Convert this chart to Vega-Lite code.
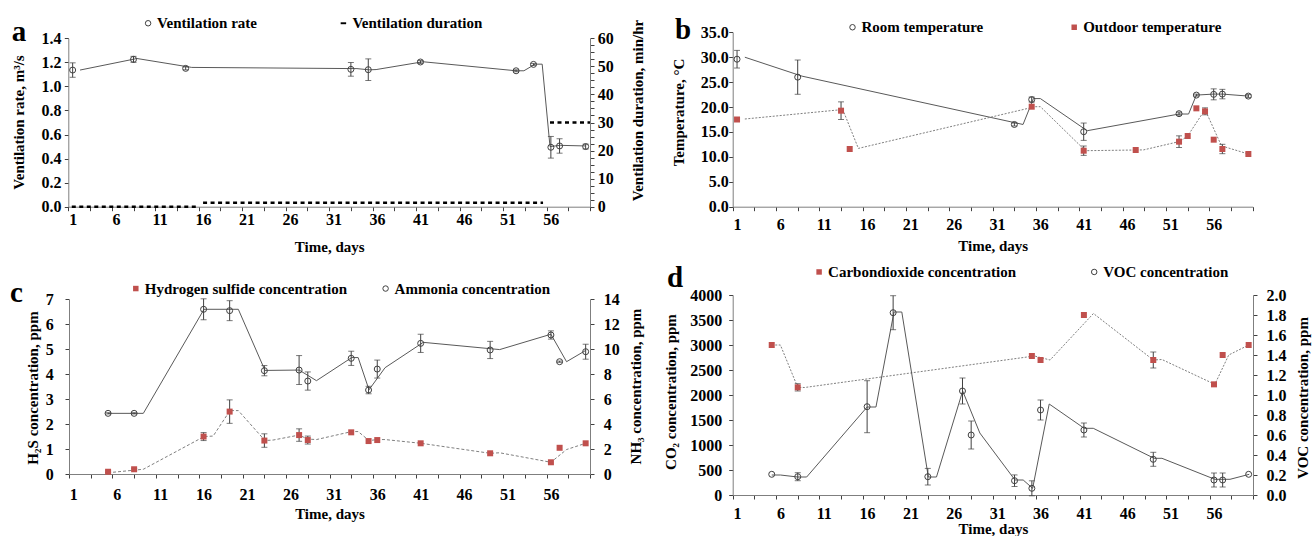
{
"$schema":"https://vega.github.io/schema/vega-lite/v6.json",
"width":1314,"height":536,"autosize":{"type":"none"},"padding":0,"background":"white",
"config":{
 "view":{"stroke":null},
 "axis":{"labelFont":"Liberation Serif","labelFontWeight":"bold","labelFontSize":16,"labelColor":"black","titleFont":"Liberation Serif","titleFontWeight":"bold","titleFontSize":15,"titleColor":"black","domainColor":"#7f7f7f","tickColor":"#404040","tickSize":4,"grid":false,"labelOverlap":false,"labelFlush":false,"labelBound":false,"titleBaseline":"middle","titleAlign":"center"},
 "legend":{"labelFont":"Liberation Serif","labelFontWeight":"bold","labelFontSize":15,"labelColor":"black","labelLimit":400,"symbolSize":30,"symbolStrokeWidth":1,"labelOffset":1.5,"padding":0}
},
"datasets":{
 "rate":[{"d":1,"v":1.136,"e":0.06,"s":"Ventilation rate"},{"d":8,"v":1.225,"e":0.025,"s":"Ventilation rate"},{"d":14,"v":1.15,"e":0.012,"s":"Ventilation rate"},{"d":33,"v":1.142,"e":0.057,"s":"Ventilation rate"},{"d":35,"v":1.139,"e":0.09,"s":"Ventilation rate"},{"d":41,"v":1.203,"e":0.012,"s":"Ventilation rate"},{"d":52,"v":1.13,"e":0.008,"s":"Ventilation rate"},{"d":54,"v":1.183,"e":0.008,"s":"Ventilation rate"},{"d":56,"v":0.494,"e":0.09,"s":"Ventilation rate"},{"d":57,"v":0.505,"e":0.06,"s":"Ventilation rate"},{"d":60,"v":0.5,"e":0.02,"s":"Ventilation rate"}],
 "rateLine":[{"d":1.85,"v":1.136},{"d":8.4,"v":1.232},{"d":14.7,"v":1.158},{"d":33.7,"v":1.148},{"d":35.1,"v":1.138},{"d":35.9,"v":1.14},{"d":41.3,"v":1.205},{"d":52,"v":1.13},{"d":52.9,"v":1.13},{"d":54.2,"v":1.185},{"d":55,"v":1.185},{"d":55.9,"v":0.5},{"d":57.1,"v":0.51},{"d":60,"v":0.505}],
 "dur":[{"d":0.9,"d2":15.4,"v":0},{"d":16,"d2":55.1,"v":1.4},{"d":55.9,"d2":60.5,"v":30}],
 "room":[{"d":1,"v":29.6,"e":1.77,"s":"Room temperature"},{"d":8,"v":26.0,"e":3.44,"s":"Room temperature"},{"d":33,"v":16.5,"e":0.3,"s":"Room temperature"},{"d":35,"v":21.5,"e":0.5,"s":"Room temperature"},{"d":41,"v":15.05,"e":1.74,"s":"Room temperature"},{"d":52,"v":18.67,"e":0.3,"s":"Room temperature"},{"d":54,"v":22.4,"e":0.2,"s":"Room temperature"},{"d":56,"v":22.55,"e":1.1,"s":"Room temperature"},{"d":57,"v":22.6,"e":0.95,"s":"Room temperature"},{"d":60,"v":22.2,"e":0.3,"s":"Room temperature"}],
 "outdoor":[{"d":1,"v":17.5,"e":0,"s":"Outdoor temperature"},{"d":13,"v":19.27,"e":1.77,"s":"Outdoor temperature"},{"d":14,"v":11.58,"e":0,"s":"Outdoor temperature"},{"d":35,"v":20.07,"e":0,"s":"Outdoor temperature"},{"d":41,"v":11.24,"e":0.94,"s":"Outdoor temperature"},{"d":47,"v":11.38,"e":0,"s":"Outdoor temperature"},{"d":52,"v":13.05,"e":1.17,"s":"Outdoor temperature"},{"d":53,"v":14.19,"e":0,"s":"Outdoor temperature"},{"d":54,"v":19.74,"e":0,"s":"Outdoor temperature"},{"d":55,"v":19.14,"e":0.7,"s":"Outdoor temperature"},{"d":56,"v":13.45,"e":0,"s":"Outdoor temperature"},{"d":57,"v":11.58,"e":0.94,"s":"Outdoor temperature"},{"d":60,"v":10.58,"e":0,"s":"Outdoor temperature"}],
 "roomLine":[{"d":1.9,"v":30.0},{"d":8.5,"v":26.2},{"d":34.0,"v":16.5},{"d":35.2,"v":21.7},{"d":36.0,"v":21.7},{"d":41.4,"v":15.25},{"d":52.0,"v":18.6},{"d":53.1,"v":18.6},{"d":54.0,"v":22.4},{"d":56,"v":22.6},{"d":57,"v":22.6},{"d":60,"v":22.2}],
 "outLine":[{"d":1.9,"v":17.6},{"d":13.2,"v":19.5},{"d":15.0,"v":11.7},{"d":35.4,"v":20.07},{"d":36.0,"v":20.07},{"d":41.2,"v":11.24},{"d":47.9,"v":11.4},{"d":52.1,"v":13.1},{"d":53.0,"v":14.2},{"d":55.0,"v":19.5},{"d":56.9,"v":12.2},{"d":60,"v":10.58}],
 "h2s":[{"d":5,"v":0.09,"e":0.03,"s":"Hydrogen sulfide concentration"},{"d":8,"v":0.19,"e":0.04,"s":"Hydrogen sulfide concentration"},{"d":16,"v":1.5,"e":0.16,"s":"Hydrogen sulfide concentration"},{"d":19,"v":2.5,"e":0.47,"s":"Hydrogen sulfide concentration"},{"d":23,"v":1.34,"e":0.27,"s":"Hydrogen sulfide concentration"},{"d":27,"v":1.56,"e":0.25,"s":"Hydrogen sulfide concentration"},{"d":28,"v":1.36,"e":0.16,"s":"Hydrogen sulfide concentration"},{"d":33,"v":1.67,"e":0,"s":"Hydrogen sulfide concentration"},{"d":35,"v":1.32,"e":0,"s":"Hydrogen sulfide concentration"},{"d":36,"v":1.36,"e":0,"s":"Hydrogen sulfide concentration"},{"d":41,"v":1.23,"e":0,"s":"Hydrogen sulfide concentration"},{"d":49,"v":0.83,"e":0,"s":"Hydrogen sulfide concentration"},{"d":56,"v":0.47,"e":0,"s":"Hydrogen sulfide concentration"},{"d":57,"v":1.05,"e":0,"s":"Hydrogen sulfide concentration"},{"d":60,"v":1.23,"e":0,"s":"Hydrogen sulfide concentration"}],
 "h2sLine":[{"d":5,"v":0.05},{"d":9.06,"v":0.19},{"d":16.05,"v":1.5},{"d":17.1,"v":1.52},{"d":19.04,"v":2.54},{"d":20,"v":2.54},{"d":23.07,"v":1.34},{"d":24,"v":1.36},{"d":27,"v":1.56},{"d":28,"v":1.4},{"d":29,"v":1.38},{"d":33.06,"v":1.7},{"d":33.8,"v":1.7},{"d":35.05,"v":1.34},{"d":36.05,"v":1.38},{"d":36.9,"v":1.38},{"d":41.04,"v":1.23},{"d":49,"v":0.83},{"d":50.1,"v":0.85},{"d":56,"v":0.47},{"d":57.8,"v":0.98},{"d":60,"v":1.23}],
 "nh3":[{"d":5,"v":4.86,"e":0.05,"s":"Ammonia concentration"},{"d":8,"v":4.86,"e":0.05,"s":"Ammonia concentration"},{"d":16,"v":13.2,"e":0.84,"s":"Ammonia concentration"},{"d":19,"v":13.09,"e":0.8,"s":"Ammonia concentration"},{"d":23,"v":8.28,"e":0.41,"s":"Ammonia concentration"},{"d":27,"v":8.33,"e":1.16,"s":"Ammonia concentration"},{"d":28,"v":7.45,"e":0.73,"s":"Ammonia concentration"},{"d":33,"v":9.27,"e":0.57,"s":"Ammonia concentration"},{"d":35,"v":6.73,"e":0.3,"s":"Ammonia concentration"},{"d":36,"v":8.41,"e":0.72,"s":"Ammonia concentration"},{"d":41,"v":10.47,"e":0.73,"s":"Ammonia concentration"},{"d":49,"v":9.94,"e":0.69,"s":"Ammonia concentration"},{"d":56,"v":11.14,"e":0.33,"s":"Ammonia concentration"},{"d":57,"v":9.0,"e":0.05,"s":"Ammonia concentration"},{"d":60,"v":9.8,"e":0.6,"s":"Ammonia concentration"}],
 "nh3Line":[{"d":5,"v":4.86},{"d":9.06,"v":4.86},{"d":16.05,"v":13.2},{"d":20,"v":13.2},{"d":23.07,"v":8.3},{"d":27,"v":8.33},{"d":29,"v":7.48},{"d":33.06,"v":9.33},{"d":33.8,"v":9.33},{"d":35.05,"v":6.75},{"d":36.9,"v":8.52},{"d":41.3,"v":10.55},{"d":50.1,"v":9.97},{"d":56,"v":11.2},{"d":57.8,"v":9.0},{"d":60,"v":9.9}],
 "co2":[{"d":5,"v":3000,"e":0,"s":"Carbondioxide concentration"},{"d":8,"v":2153,"e":73,"s":"Carbondioxide concentration"},{"d":35,"v":2780,"e":0,"s":"Carbondioxide concentration"},{"d":36,"v":2700,"e":0,"s":"Carbondioxide concentration"},{"d":41,"v":3600,"e":0,"s":"Carbondioxide concentration"},{"d":49,"v":2700,"e":160,"s":"Carbondioxide concentration"},{"d":56,"v":2213,"e":0,"s":"Carbondioxide concentration"},{"d":57,"v":2800,"e":0,"s":"Carbondioxide concentration"},{"d":60,"v":3000,"e":0,"s":"Carbondioxide concentration"}],
 "co2Line":[{"d":5,"v":3000},{"d":6,"v":3000},{"d":8,"v":2153},{"d":8.8,"v":2150},{"d":35.3,"v":2780},{"d":37.1,"v":2700},{"d":42.1,"v":3630},{"d":49,"v":2700},{"d":50,"v":2710},{"d":56.1,"v":2213},{"d":57.7,"v":2800},{"d":60,"v":3000}],
 "voc":[{"d":5,"v":0.207,"e":0,"s":"VOC concentration"},{"d":8,"v":0.183,"e":0.04,"s":"VOC concentration"},{"d":16,"v":0.883,"e":0.26,"s":"VOC concentration"},{"d":19,"v":1.823,"e":0.17,"s":"VOC concentration"},{"d":23,"v":0.183,"e":0.083,"s":"VOC concentration"},{"d":27,"v":1.04,"e":0.13,"s":"VOC concentration"},{"d":28,"v":0.6,"e":0.14,"s":"VOC concentration"},{"d":33,"v":0.143,"e":0.058,"s":"VOC concentration"},{"d":35,"v":0.067,"e":0.075,"s":"VOC concentration"},{"d":36,"v":0.85,"e":0.1,"s":"VOC concentration"},{"d":41,"v":0.65,"e":0.07,"s":"VOC concentration"},{"d":49,"v":0.357,"e":0.07,"s":"VOC concentration"},{"d":56,"v":0.15,"e":0.07,"s":"VOC concentration"},{"d":57,"v":0.15,"e":0.07,"s":"VOC concentration"},{"d":60,"v":0.207,"e":0,"s":"VOC concentration"}],
 "vocLine":[{"d":5,"v":0.2},{"d":6,"v":0.2},{"d":8,"v":0.18},{"d":9.03,"v":0.18},{"d":16,"v":0.88},{"d":17.02,"v":0.88},{"d":19.1,"v":1.83},{"d":20,"v":1.83},{"d":23.06,"v":0.18},{"d":24,"v":0.18},{"d":27.02,"v":1.04},{"d":29,"v":0.62},{"d":33.05,"v":0.15},{"d":34,"v":0.15},{"d":35.09,"v":0.067},{"d":37,"v":0.91},{"d":41.04,"v":0.667},{"d":42.08,"v":0.667},{"d":49.1,"v":0.367},{"d":50,"v":0.367},{"d":56.1,"v":0.157},{"d":57.85,"v":0.157},{"d":60.07,"v":0.207}]
},
"layer":[
 {
  "layer":[
   {"layer":[
    {"data":{"name":"rateLine"},"mark":{"type":"line","color":"#595959","strokeWidth":1},
     "encoding":{"x":{"field":"d","type":"quantitative","scale":{"domain":[0.5,60.5],"range":[68.3,590],"nice":false,"zero":false},
                      "axis":{"orient":"bottom","offset":-329.3,"values":[0.5,3,5.5,8,10.5,13,15.5,18,20.5,23,25.5,28,30.5,33,35.5,38,40.5,43,45.5,48,50.5,53,55.5,58,60.5],"labels":false,"title":null}},
                 "y":{"field":"v","type":"quantitative","scale":{"domain":[0,1.4],"range":[206.7,38.3],"nice":false,"zero":false}}}},
    {"data":{"name":"rate"},"transform":[{"filter":"datum.e > 0"}],"mark":{"type":"errorbar","ticks":{"size":6},"color":"#404040","thickness":1},
     "encoding":{"x":{"field":"d","type":"quantitative","scale":{"domain":[0.5,60.5],"range":[68.3,590],"nice":false,"zero":false},"axis":null},
                 "y":{"field":"v","type":"quantitative","title":"Ventilation rate, m³/s","scale":{"domain":[0,1.4],"range":[206.7,38.3],"nice":false,"zero":false}},
                 "yError":{"field":"e"}}},
    {"data":{"values":[{}]},"mark":{"type":"text","text":"a","font":"Liberation Serif","fontSize":29,"fontWeight":"bold","align":"left","baseline":"alphabetic","color":"black"},
     "encoding":{"x":{"datum":-6,"type":"quantitative","scale":{"domain":[0.5,60.5],"range":[68.3,590],"nice":false,"zero":false},"axis":null},
                 "y":{"datum":1.3816,"type":"quantitative","scale":{"domain":[0,1.4],"range":[206.7,38.3],"nice":false,"zero":false}}}},
    {"data":{"name":"rate"},"mark":{"type":"point","size":36,"strokeWidth":1,"opacity":1},
     "encoding":{
      "x":{"field":"d","type":"quantitative","scale":{"domain":[0.5,60.5],"range":[68.3,590],"nice":false,"zero":false},
           "axis":{"orient":"bottom","offset":-329.3,"values":[1,6,11,16,21,26,31,36,41,46,51,56],"format":"d","tickOpacity":0,"domain":false,
                   "labelOverlap":false,"labelFlush":false,"labelBound":false,
                   "labelPadding":0.5,"title":"Time, days","titleX":329.2,"titleY":40}},
      "y":{"field":"v","type":"quantitative","scale":{"domain":[0,1.4],"range":[206.7,38.3],"nice":false,"zero":false},
           "axis":{"orient":"left","offset":-68.3,"values":[0,0.05,0.1,0.15,0.2,0.25,0.3,0.35,0.4,0.45,0.5,0.55,0.6,0.65,0.7,0.75,0.8,0.85,0.9,0.95,1,1.05,1.1,1.15,1.2,1.25,1.3,1.35,1.4],
                   "labelExpr":"round(datum.value * 100) % 20 === 0 ? format(datum.value, '.1f') : ''","labelPadding":3.3,"labelOverlap":false,"labelFlush":false,"labelBound":false,
                   "title":"Ventilation rate, m³/s","titleAngle":270,"titleX":-50,"titleY":122}},
      "shape":{"field":"s","type":"nominal","scale":{"domain":["Ventilation rate","Ventilation duration"],"range":["circle","M-1,-0.35L1,-0.35L1,0.35L-1,0.35Z"]},
               "legend":{"title":null,"orient":"none","legendX":140.6,"legendY":15.5,"direction":"horizontal","columnPadding":78.3}},
      "fill":{"field":"s","type":"nominal","scale":{"domain":["Ventilation rate","Ventilation duration"],"range":["transparent","black"]},
               "legend":{"title":null,"orient":"none","legendX":140.6,"legendY":15.5,"direction":"horizontal","columnPadding":78.3}},
      "stroke":{"field":"s","type":"nominal","scale":{"domain":["Ventilation rate","Ventilation duration"],"range":["#404040","transparent"]},
               "legend":{"title":null,"orient":"none","legendX":140.6,"legendY":15.5,"direction":"horizontal","columnPadding":78.3}}
     }}
   ],
   "resolve":{"axis":{"x":"independent"}}},
   {"layer":[
    {"data":{"name":"dur"},"mark":{"type":"rule","color":"black","strokeWidth":2.5,"strokeDash":[4,3.5]},
     "encoding":{"x":{"field":"d","type":"quantitative","scale":{"domain":[0.5,60.5],"range":[68.3,590],"nice":false,"zero":false},"axis":null},
                 "x2":{"field":"d2"},
                 "y":{"field":"v","type":"quantitative","scale":{"domain":[0,60],"range":[206.7,38.3],"nice":false,"zero":false},
                      "axis":{"orient":"right","offset":-724,"values":[0,2.5,5,7.5,10,12.5,15,17.5,20,22.5,25,27.5,30,32.5,35,37.5,40,42.5,45,47.5,50,52.5,55,57.5,60],
                              "labelExpr":"datum.value % 10 === 0 ? format(datum.value, 'd') : ''","labelPadding":3.3,"labelOverlap":false,"labelFlush":false,"labelBound":false,
                              "title":"Ventilation duration, min/hr","titleAngle":270,"titleX":47.3,"titleY":110}}}}
   ]}
  ],
  "resolve":{"scale":{"y":"independent"},"axis":{"y":"independent","x":"independent"}}
 },
 {
  "layer":[
   {"data":{"name":"roomLine"},"mark":{"type":"line","color":"#595959","strokeWidth":1},
    "encoding":{"x":{"field":"d","type":"quantitative","scale":{"domain":[0.5,60.5],"range":[732.7,1252.7],"nice":false,"zero":false},
                     "axis":{"orient":"bottom","offset":-329.3,"values":[0.5,3,5.5,8,10.5,13,15.5,18,20.5,23,25.5,28,30.5,33,35.5,38,40.5,43,45.5,48,50.5,53,55.5,58,60.5],"labels":false,"title":null}},
                "y":{"field":"v","type":"quantitative","scale":{"domain":[0,35],"range":[206.7,32.3],"nice":false,"zero":false}}}},
   {"data":{"name":"outLine"},"mark":{"type":"line","color":"#7f7f7f","strokeWidth":1,"strokeDash":[2,1.5]},
    "encoding":{"x":{"field":"d","type":"quantitative","scale":{"domain":[0.5,60.5],"range":[732.7,1252.7],"nice":false,"zero":false},"axis":null},
                "y":{"field":"v","type":"quantitative","scale":{"domain":[0,35],"range":[206.7,32.3],"nice":false,"zero":false}}}},
   {"data":{"name":"room"},"transform":[{"filter":"datum.e > 0"}],"mark":{"type":"errorbar","ticks":{"size":6},"color":"#404040","thickness":1},
    "encoding":{"x":{"field":"d","type":"quantitative","scale":{"domain":[0.5,60.5],"range":[732.7,1252.7],"nice":false,"zero":false},"axis":null},
                "y":{"field":"v","type":"quantitative","title":"Temperature, °C","scale":{"domain":[0,35],"range":[206.7,32.3],"nice":false,"zero":false}},
                "yError":{"field":"e"}}},
   {"data":{"name":"outdoor"},"transform":[{"filter":"datum.e > 0"}],"mark":{"type":"errorbar","ticks":{"size":6},"color":"#404040","thickness":1},
    "encoding":{"x":{"field":"d","type":"quantitative","scale":{"domain":[0.5,60.5],"range":[732.7,1252.7],"nice":false,"zero":false},"axis":null},
                "y":{"field":"v","type":"quantitative","title":"Temperature, °C","scale":{"domain":[0,35],"range":[206.7,32.3],"nice":false,"zero":false}},
                "yError":{"field":"e"}}},
   {"data":{"name":"outdoor"},"mark":{"type":"point","size":36,"strokeWidth":1,"opacity":1},
    "encoding":{
     "x":{"field":"d","type":"quantitative","scale":{"domain":[0.5,60.5],"range":[732.7,1252.7],"nice":false,"zero":false},"axis":null},
     "y":{"field":"v","type":"quantitative","scale":{"domain":[0,35],"range":[206.7,32.3],"nice":false,"zero":false}},
     "shape":{"field":"s","type":"nominal","scale":{"domain":["Room temperature","Outdoor temperature"],"range":["circle","square"]},
              "legend":{"title":null,"orient":"none","legendX":845,"legendY":19.5,"direction":"horizontal","columnPadding":82.7}},
     "fill":{"field":"s","type":"nominal","scale":{"domain":["Room temperature","Outdoor temperature"],"range":["transparent","#c0504d"]},
              "legend":{"title":null,"orient":"none","legendX":845,"legendY":19.5,"direction":"horizontal","columnPadding":82.7}},
     "stroke":{"field":"s","type":"nominal","scale":{"domain":["Room temperature","Outdoor temperature"],"range":["#404040","transparent"]},
              "legend":{"title":null,"orient":"none","legendX":845,"legendY":19.5,"direction":"horizontal","columnPadding":82.7}}
    }},
   {"data":{"values":[{}]},"mark":{"type":"text","text":"b","font":"Liberation Serif","fontSize":29,"fontWeight":"bold","align":"left","baseline":"alphabetic","color":"black"},
    "encoding":{"x":{"datum":-6.16,"type":"quantitative","scale":{"domain":[0.5,60.5],"range":[732.7,1252.7],"nice":false,"zero":false},"axis":null},
                "y":{"datum":33.65,"type":"quantitative","scale":{"domain":[0,35],"range":[206.7,32.3],"nice":false,"zero":false}}}},
   {"data":{"name":"room"},"mark":{"type":"point","size":36,"strokeWidth":1,"opacity":1},
    "encoding":{
     "x":{"field":"d","type":"quantitative","scale":{"domain":[0.5,60.5],"range":[732.7,1252.7],"nice":false,"zero":false},
          "axis":{"orient":"bottom","offset":-329.3,"values":[1,6,11,16,21,26,31,36,41,46,51,56],"format":"d","tickOpacity":0,"domain":false,
                  "labelOverlap":false,"labelFlush":false,"labelBound":false,
                  "labelPadding":6,"title":"Time, days","titleX":992.7,"titleY":38.3}},
     "y":{"field":"v","type":"quantitative","scale":{"domain":[0,35],"range":[206.7,32.3],"nice":false,"zero":false},
          "axis":{"orient":"left","offset":-732.7,"values":[0,2.5,5,7.5,10,12.5,15,17.5,20,22.5,25,27.5,30,32.5,35],
                  "labelExpr":"datum.value % 5 === 0 ? format(datum.value, '.1f') : ''","labelPadding":0.5,"labelOverlap":false,"labelFlush":false,"labelBound":false,
                  "title":"Temperature, °C","titleAngle":270,"titleX":-54.4,"titleY":112}},
     "shape":{"field":"s","type":"nominal","scale":{"domain":["Room temperature","Outdoor temperature"],"range":["circle","square"]},
              "legend":{"title":null,"orient":"none","legendX":845,"legendY":19.5,"direction":"horizontal","columnPadding":82.7}},
     "fill":{"field":"s","type":"nominal","scale":{"domain":["Room temperature","Outdoor temperature"],"range":["transparent","#c0504d"]},
              "legend":{"title":null,"orient":"none","legendX":845,"legendY":19.5,"direction":"horizontal","columnPadding":82.7}},
     "stroke":{"field":"s","type":"nominal","scale":{"domain":["Room temperature","Outdoor temperature"],"range":["#404040","transparent"]},
              "legend":{"title":null,"orient":"none","legendX":845,"legendY":19.5,"direction":"horizontal","columnPadding":82.7}}
    }}
  ],
  "resolve":{"axis":{"x":"independent"}}
 },
 {
  "layer":[
   {"layer":[
    {"data":{"name":"h2sLine"},"mark":{"type":"line","color":"#7f7f7f","strokeWidth":1,"strokeDash":[3,2]},
     "encoding":{"x":{"field":"d","type":"quantitative","scale":{"domain":[0.5,60.5],"range":[69,590],"nice":false,"zero":false},
                      "axis":{"orient":"bottom","offset":-62,"values":[0.5,3,5.5,8,10.5,13,15.5,18,20.5,23,25.5,28,30.5,33,35.5,38,40.5,43,45.5,48,50.5,53,55.5,58,60.5],"labels":false,"title":null}},
                 "y":{"field":"v","type":"quantitative","scale":{"domain":[0,7],"range":[474,299.3],"nice":false,"zero":false}}}},
    {"data":{"name":"h2s"},"transform":[{"filter":"datum.e > 0"}],"mark":{"type":"errorbar","ticks":{"size":6},"color":"#404040","thickness":1},
     "encoding":{"x":{"field":"d","type":"quantitative","scale":{"domain":[0.5,60.5],"range":[69,590],"nice":false,"zero":false},"axis":null},
                 "y":{"field":"v","type":"quantitative","title":"H₂S concentration, ppm","scale":{"domain":[0,7],"range":[474,299.3],"nice":false,"zero":false}},
                 "yError":{"field":"e"}}},
    {"data":{"values":[{}]},"mark":{"type":"text","text":"c","font":"Liberation Serif","fontSize":29,"fontWeight":"bold","align":"left","baseline":"alphabetic","color":"black"},
     "encoding":{"x":{"datum":-6.3,"type":"quantitative","scale":{"domain":[0.5,60.5],"range":[69,590],"nice":false,"zero":false},"axis":null},
                 "y":{"datum":6.9,"type":"quantitative","scale":{"domain":[0,7],"range":[474,299.3],"nice":false,"zero":false}}}},
    {"data":{"name":"h2s"},"mark":{"type":"point","size":36,"strokeWidth":1,"opacity":1},
     "encoding":{
      "x":{"field":"d","type":"quantitative","scale":{"domain":[0.5,60.5],"range":[69,590],"nice":false,"zero":false},
           "axis":{"orient":"bottom","offset":-62,"values":[1,6,11,16,21,26,31,36,41,46,51,56],"format":"d","tickOpacity":0,"domain":false,
                   "labelOverlap":false,"labelFlush":false,"labelBound":false,
                   "labelPadding":8,"title":"Time, days","titleX":329.5,"titleY":39.3}},
      "y":{"field":"v","type":"quantitative","scale":{"domain":[0,7],"range":[474,299.3],"nice":false,"zero":false},
           "axis":{"orient":"left","offset":-69,"values":[0,0.5,1,1.5,2,2.5,3,3.5,4,4.5,5,5.5,6,6.5,7],
                   "labelExpr":"datum.value % 1 === 0 ? format(datum.value, 'd') : ''","labelPadding":11.7,"labelOverlap":false,"labelFlush":false,"labelBound":false,
                   "title":"H₂S concentration, ppm","titleAngle":270,"titleX":-36.3,"titleY":387.5}},
      "shape":{"field":"s","type":"nominal","scale":{"domain":["Hydrogen sulfide concentration","Ammonia concentration"],"range":["square","circle"]},
               "legend":{"title":null,"orient":"none","legendX":128.3,"legendY":280.8,"direction":"horizontal","columnPadding":30.8}},
      "fill":{"field":"s","type":"nominal","scale":{"domain":["Hydrogen sulfide concentration","Ammonia concentration"],"range":["#c0504d","transparent"]},
               "legend":{"title":null,"orient":"none","legendX":128.3,"legendY":280.8,"direction":"horizontal","columnPadding":30.8}},
      "stroke":{"field":"s","type":"nominal","scale":{"domain":["Hydrogen sulfide concentration","Ammonia concentration"],"range":["transparent","#404040"]},
               "legend":{"title":null,"orient":"none","legendX":128.3,"legendY":280.8,"direction":"horizontal","columnPadding":30.8}}
     }}
   ],
   "resolve":{"axis":{"x":"independent"}}},
   {"layer":[
    {"data":{"name":"nh3Line"},"mark":{"type":"line","color":"#595959","strokeWidth":1},
     "encoding":{"x":{"field":"d","type":"quantitative","scale":{"domain":[0.5,60.5],"range":[69,590],"nice":false,"zero":false},"axis":null},
                 "y":{"field":"v","type":"quantitative","scale":{"domain":[0,14],"range":[474,299.3],"nice":false,"zero":false}}}},
    {"data":{"name":"nh3"},"transform":[{"filter":"datum.e > 0"}],"mark":{"type":"errorbar","ticks":{"size":6},"color":"#404040","thickness":1},
     "encoding":{"x":{"field":"d","type":"quantitative","scale":{"domain":[0.5,60.5],"range":[69,590],"nice":false,"zero":false},"axis":null},
                 "y":{"field":"v","type":"quantitative","title":"NH₃ concentration, ppm","scale":{"domain":[0,14],"range":[474,299.3],"nice":false,"zero":false}},
                 "yError":{"field":"e"}}},
    {"data":{"name":"nh3"},"mark":{"type":"point","size":36,"strokeWidth":1,"opacity":1},
     "encoding":{
      "x":{"field":"d","type":"quantitative","scale":{"domain":[0.5,60.5],"range":[69,590],"nice":false,"zero":false},"axis":null},
      "y":{"field":"v","type":"quantitative","scale":{"domain":[0,14],"range":[474,299.3],"nice":false,"zero":false},
           "axis":{"orient":"right","offset":-724,"values":[0,1,2,3,4,5,6,7,8,9,10,11,12,13,14],
                   "labelExpr":"datum.value % 2 === 0 ? format(datum.value, 'd') : ''","labelPadding":9.3,"labelOverlap":false,"labelFlush":false,"labelBound":false,
                   "title":"NH₃ concentration, ppm","titleAngle":270,"titleX":45,"titleY":386}},
      "shape":{"field":"s","type":"nominal","scale":{"domain":["Hydrogen sulfide concentration","Ammonia concentration"],"range":["square","circle"]},
               "legend":{"title":null,"orient":"none","legendX":128.3,"legendY":280.8,"direction":"horizontal","columnPadding":30.8}},
      "fill":{"field":"s","type":"nominal","scale":{"domain":["Hydrogen sulfide concentration","Ammonia concentration"],"range":["#c0504d","transparent"]},
               "legend":{"title":null,"orient":"none","legendX":128.3,"legendY":280.8,"direction":"horizontal","columnPadding":30.8}},
      "stroke":{"field":"s","type":"nominal","scale":{"domain":["Hydrogen sulfide concentration","Ammonia concentration"],"range":["transparent","#404040"]},
               "legend":{"title":null,"orient":"none","legendX":128.3,"legendY":280.8,"direction":"horizontal","columnPadding":30.8}}
     }}
   ]}
  ],
  "resolve":{"scale":{"y":"independent"},"axis":{"y":"independent","x":"independent"}}
 },
 {
  "layer":[
   {"layer":[
    {"data":{"name":"co2Line"},"mark":{"type":"line","color":"#7f7f7f","strokeWidth":1,"strokeDash":[2,1.5]},
     "encoding":{"x":{"field":"d","type":"quantitative","scale":{"domain":[0.5,60.5],"range":[732.7,1253],"nice":false,"zero":false},
                      "axis":{"orient":"bottom","offset":-41,"values":[0.5,3,5.5,8,10.5,13,15.5,18,20.5,23,25.5,28,30.5,33,35.5,38,40.5,43,45.5,48,50.5,53,55.5,58,60.5],"labels":false,"title":null}},
                 "y":{"field":"v","type":"quantitative","scale":{"domain":[0,4000],"range":[495,295],"nice":false,"zero":false}}}},
    {"data":{"name":"co2"},"transform":[{"filter":"datum.e > 0"}],"mark":{"type":"errorbar","ticks":{"size":6},"color":"#404040","thickness":1},
     "encoding":{"x":{"field":"d","type":"quantitative","scale":{"domain":[0.5,60.5],"range":[732.7,1253],"nice":false,"zero":false},"axis":null},
                 "y":{"field":"v","type":"quantitative","title":"CO₂ concentration, ppm","scale":{"domain":[0,4000],"range":[495,295],"nice":false,"zero":false}},
                 "yError":{"field":"e"}}},
    {"data":{"values":[{}]},"mark":{"type":"text","text":"d","font":"Liberation Serif","fontSize":29,"fontWeight":"bold","align":"left","baseline":"alphabetic","color":"black"},
     "encoding":{"x":{"datum":-7.08,"type":"quantitative","scale":{"domain":[0.5,60.5],"range":[732.7,1253],"nice":false,"zero":false},"axis":null},
                 "y":{"datum":4166,"type":"quantitative","scale":{"domain":[0,4000],"range":[495,295],"nice":false,"zero":false}}}},
    {"data":{"name":"co2"},"mark":{"type":"point","size":36,"strokeWidth":1,"opacity":1},
     "encoding":{
      "x":{"field":"d","type":"quantitative","scale":{"domain":[0.5,60.5],"range":[732.7,1253],"nice":false,"zero":false},
           "axis":{"orient":"bottom","offset":-41,"values":[1,6,11,16,21,26,31,36,41,46,51,56],"format":"d","tickOpacity":0,"domain":false,
                   "labelOverlap":false,"labelFlush":false,"labelBound":false,
                   "labelPadding":6.6,"title":"Time, days","titleX":992.9,"titleY":33.3}},
      "y":{"field":"v","type":"quantitative","scale":{"domain":[0,4000],"range":[495,295],"nice":false,"zero":false},
           "axis":{"orient":"left","offset":-732.7,"values":[0,250,500,750,1000,1250,1500,1750,2000,2250,2500,2750,3000,3250,3500,3750,4000],
                   "labelExpr":"datum.value % 500 === 0 ? format(datum.value, 'd') : ''","labelPadding":7,"labelOverlap":false,"labelFlush":false,"labelBound":false,
                   "title":"CO₂ concentration, ppm","titleAngle":270,"titleX":-62.7,"titleY":391.5}},
      "shape":{"field":"s","type":"nominal","scale":{"domain":["Carbondioxide concentration","VOC concentration"],"range":["square","circle"]},
               "legend":{"title":null,"orient":"none","legendX":811.6,"legendY":264.2,"direction":"horizontal","columnPadding":70.1}},
      "fill":{"field":"s","type":"nominal","scale":{"domain":["Carbondioxide concentration","VOC concentration"],"range":["#c0504d","transparent"]},
               "legend":{"title":null,"orient":"none","legendX":811.6,"legendY":264.2,"direction":"horizontal","columnPadding":70.1}},
      "stroke":{"field":"s","type":"nominal","scale":{"domain":["Carbondioxide concentration","VOC concentration"],"range":["transparent","#404040"]},
               "legend":{"title":null,"orient":"none","legendX":811.6,"legendY":264.2,"direction":"horizontal","columnPadding":70.1}}
     }}
   ],
   "resolve":{"axis":{"x":"independent"}}},
   {"layer":[
    {"data":{"name":"vocLine"},"mark":{"type":"line","color":"#595959","strokeWidth":1},
     "encoding":{"x":{"field":"d","type":"quantitative","scale":{"domain":[0.5,60.5],"range":[732.7,1253],"nice":false,"zero":false},"axis":null},
                 "y":{"field":"v","type":"quantitative","scale":{"domain":[0,2],"range":[495,295],"nice":false,"zero":false}}}},
    {"data":{"name":"voc"},"transform":[{"filter":"datum.e > 0"}],"mark":{"type":"errorbar","ticks":{"size":6},"color":"#404040","thickness":1},
     "encoding":{"x":{"field":"d","type":"quantitative","scale":{"domain":[0.5,60.5],"range":[732.7,1253],"nice":false,"zero":false},"axis":null},
                 "y":{"field":"v","type":"quantitative","title":"VOC concentration, ppm","scale":{"domain":[0,2],"range":[495,295],"nice":false,"zero":false}},
                 "yError":{"field":"e"}}},
    {"data":{"name":"voc"},"mark":{"type":"point","size":36,"strokeWidth":1,"opacity":1},
     "encoding":{
      "x":{"field":"d","type":"quantitative","scale":{"domain":[0.5,60.5],"range":[732.7,1253],"nice":false,"zero":false},"axis":null},
      "y":{"field":"v","type":"quantitative","scale":{"domain":[0,2],"range":[495,295],"nice":false,"zero":false},
           "axis":{"orient":"right","offset":-61,"values":[0,0.1,0.2,0.3,0.4,0.5,0.6,0.7,0.8,0.9,1,1.1,1.2,1.3,1.4,1.5,1.6,1.7,1.8,1.9,2],
                   "labelExpr":"round(datum.value * 10) % 2 === 0 ? format(datum.value, '.1f') : ''","labelPadding":9,"labelOverlap":false,"labelFlush":false,"labelBound":false,
                   "title":"VOC concentration, ppm","titleAngle":270,"titleX":49,"titleY":397.5}},
      "shape":{"field":"s","type":"nominal","scale":{"domain":["Carbondioxide concentration","VOC concentration"],"range":["square","circle"]},
               "legend":{"title":null,"orient":"none","legendX":811.6,"legendY":264.2,"direction":"horizontal","columnPadding":70.1}},
      "fill":{"field":"s","type":"nominal","scale":{"domain":["Carbondioxide concentration","VOC concentration"],"range":["#c0504d","transparent"]},
               "legend":{"title":null,"orient":"none","legendX":811.6,"legendY":264.2,"direction":"horizontal","columnPadding":70.1}},
      "stroke":{"field":"s","type":"nominal","scale":{"domain":["Carbondioxide concentration","VOC concentration"],"range":["transparent","#404040"]},
               "legend":{"title":null,"orient":"none","legendX":811.6,"legendY":264.2,"direction":"horizontal","columnPadding":70.1}}
     }}
   ]}
  ],
  "resolve":{"scale":{"y":"independent"},"axis":{"y":"independent","x":"independent"}}
 }
],
"resolve":{"scale":{"x":"independent","y":"independent","shape":"independent","fill":"independent","stroke":"independent"},"axis":{"x":"independent","y":"independent"},"legend":{"shape":"independent","fill":"independent","stroke":"independent"}}
}
